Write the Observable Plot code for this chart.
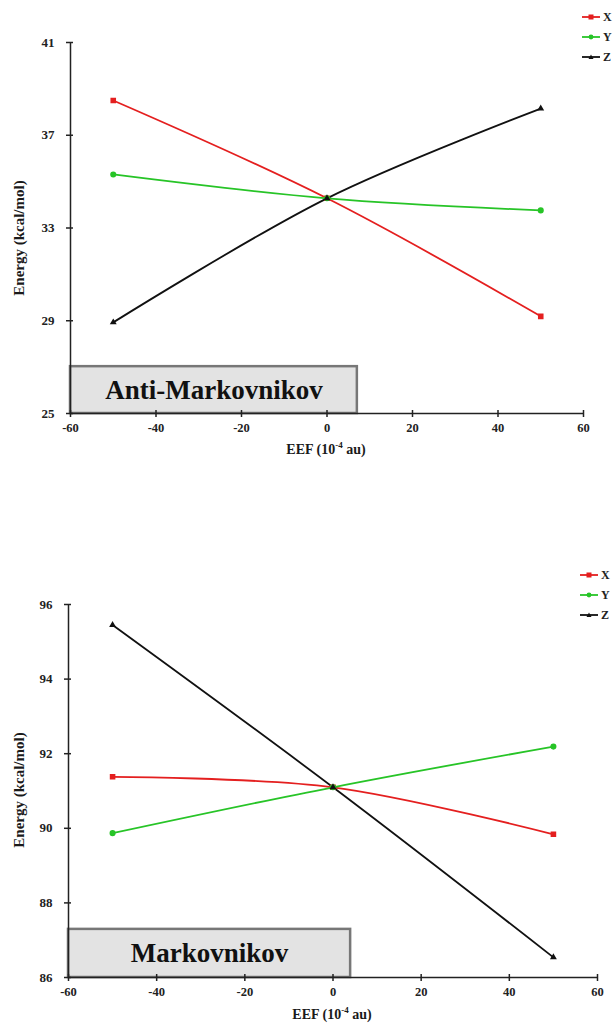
<!DOCTYPE html>
<html><head><meta charset="utf-8">
<script src="https://cdn.jsdelivr.net/npm/d3@7"></script>
<script src="https://cdn.jsdelivr.net/npm/@observablehq/plot@0.6"></script>
<style>
body{margin:0;background:#fff;}
#wrap{position:relative;width:614px;height:1026px;overflow:hidden;font-family:"Liberation Serif","DejaVu Serif",serif;}
#wrap svg.plot{display:block;}
.legend{position:absolute;}
.ttl{position:absolute;white-space:nowrap;font-weight:bold;color:#1a1a1a;font-family:"Liberation Serif","DejaVu Serif",serif;}
</style></head><body><div id="wrap"></div>
<script>
// EEF field values (10^-4 au)
const eef = [-50, 0, 50];
const seriesNames = ["X", "Y", "Z"];
const seriesColors = ["#e41f1f", "#27c427", "#111111"];
const seriesSymbols = ["square", "circle", "triangle"];

// Anti-Markovnikov energies (kcal/mol)
const antiX = [38.5, 34.28, 29.19];
const antiY = [35.31, 34.28, 33.76];
const antiZ = [28.93, 34.28, 38.15];
const antiYTicks = [25, 29, 33, 37, 41];

// Markovnikov energies (kcal/mol)
const markX = [91.38, 91.1, 89.84];
const markY = [89.87, 91.1, 92.19];
const markZ = [95.45, 91.1, 86.54];
const markYTicks = [86, 88, 90, 92, 94, 96];

const xTicks = [-60, -40, -20, 0, 20, 40, 60];

// panel label boxes (data space)
const antiBox = [{label: "Anti-Markovnikov", x1: -60, x2: 7.1, y1: 25, y2: 27.02}];
const markBox = [{label: "Markovnikov", x1: -60, x2: 4, y1: 86, y2: 87.29}];

const FONT = "Liberation Serif, DejaVu Serif, serif";

function tidy(arrs) {
  const rows = [];
  arrs.forEach((vals, i) => vals.forEach((v, j) => rows.push({x: eef[j], y: v, s: seriesNames[i]})));
  return rows;
}

function panel({series, yTicks, box, marginLeft, marginRight, marginTop, marginBottom}) {
  const data = tidy(series);
  const yDom = [yTicks[0], yTicks[yTicks.length - 1]];
  const marks = [
    Plot.rect(box, {x1: "x1", x2: "x2", y1: "y1", y2: "y2", fill: "#e3e3e3", stroke: "#777", strokeWidth: 2.5}),
    Plot.text(box, {x: d => (d.x1 + d.x2) / 2, y: d => (d.y1 + d.y2) / 2, text: "label",
      fontSize: 27, fontWeight: "bold", fontFamily: FONT, fill: "#111"}),
    Plot.ruleX([-60], {stroke: "#222", strokeWidth: 1.5}),
    Plot.ruleY([yDom[0]], {stroke: "#222", strokeWidth: 1.5}),
    Plot.axisY({ticks: yTicks, tickSize: 7, dx: 3, tickFormat: () => "", label: null, stroke: "#222", strokeWidth: 1.5}),
    Plot.axisY({ticks: yTicks, tickSize: 0, tickPadding: 16, label: null, tickFormat: d => String(d),
      fontSize: 13, fontWeight: "bold", fontFamily: FONT, fill: "#222"}),
    Plot.axisX({ticks: xTicks, tickSize: 7, dy: -3, tickFormat: () => "", label: null, stroke: "#222", strokeWidth: 1.5}),
    Plot.axisX({ticks: xTicks, tickSize: 0, tickPadding: 10, label: null, tickFormat: d => String(d),
      fontSize: 12.5, fontWeight: "bold", fontFamily: FONT, fill: "#222"}),
    Plot.line(data, {x: "x", y: "y", z: "s", stroke: "s", strokeWidth: 1.8, curve: "catmull-rom"}),
    Plot.dot(data, {filter: d => d.s !== "Z", x: "x", y: "y", fill: "s", stroke: "s", symbol: "s", r: 2.3}),
    Plot.dot(data, {filter: d => d.s === "Z", x: "x", y: "y", fill: "s", stroke: "s", symbol: "s", r: 1.6})
  ];
  return Plot.plot({
    width: 614, height: 513,
    marginLeft, marginRight, marginTop, marginBottom,
    style: {background: "transparent", overflow: "visible", fontFamily: FONT},
    x: {domain: [-60, 60]},
    y: {domain: yDom},
    color: {domain: seriesNames, range: seriesColors},
    symbol: {domain: seriesNames, range: seriesSymbols},
    marks
  });
}

const wrap = document.getElementById("wrap");

function addPanel(opts, top, yLabelCenter, xLabelCenter, xLabelTop, legendTop, legendLeft) {
  const div = document.createElement("div");
  div.style.cssText = `position:absolute;left:0;top:${top}px;width:614px;height:513px;`;
  div.appendChild(panel(opts));
  wrap.appendChild(div);
  // y axis title
  const yl = document.createElement("div");
  yl.className = "ttl";
  yl.textContent = "Energy (kcal/mol)";
  yl.style.cssText = `left:19px;top:${yLabelCenter}px;transform:translate(-50%,-50%) rotate(-90deg);font-size:15px;`;
  wrap.appendChild(yl);
  // x axis title
  const xl = document.createElement("div");
  xl.className = "ttl";
  xl.innerHTML = "EEF (10<span style='font-size:9px;position:relative;top:-6px'>-4</span> au)";
  xl.style.cssText = `left:${xLabelCenter}px;top:${xLabelTop}px;transform:translate(-50%,0);font-size:14px;line-height:14px;`;
  wrap.appendChild(xl);
  // legend
  const lg = document.createElementNS("http://www.w3.org/2000/svg", "svg");
  lg.setAttribute("width", 40); lg.setAttribute("height", 60);
  lg.setAttribute("class", "legend");
  lg.style.left = legendLeft + "px"; lg.style.top = legendTop + "px";
  seriesNames.forEach((n, i) => {
    const cy = 8 + i * 20;
    const c = seriesColors[i];
    let shape;
    if (seriesSymbols[i] === "square") shape = `<rect x="6.5" y="${cy - 2.5}" width="5" height="5" fill="${c}"/>`;
    else if (seriesSymbols[i] === "circle") shape = `<circle cx="9" cy="${cy}" r="2.4" fill="${c}"/>`;
    else shape = `<path d="M9,${cy - 2.5}L11.5,${cy + 2}L6.5,${cy + 2}Z" fill="${c}"/>`;
    lg.insertAdjacentHTML("beforeend",
      `<line x1="0" x2="18" y1="${cy}" y2="${cy}" stroke="${c}" stroke-width="1.8"/>${shape}` +
      `<text x="21" y="${cy + 4}" font-family="${FONT}" font-weight="bold" font-size="12" fill="#222">${n}</text>`);
  });
  wrap.appendChild(lg);
}

addPanel({series: [antiX, antiY, antiZ], yTicks: antiYTicks, box: antiBox,
  marginLeft: 70, marginRight: 31, marginTop: 42, marginBottom: 100}, 0, 238, 326, 443, 9, 582);
addPanel({series: [markX, markY, markZ], yTicks: markYTicks, box: markBox,
  marginLeft: 68, marginRight: 17, marginTop: 91, marginBottom: 49}, 513, 790, 332, 1008, 567, 580);
</script></body></html>
